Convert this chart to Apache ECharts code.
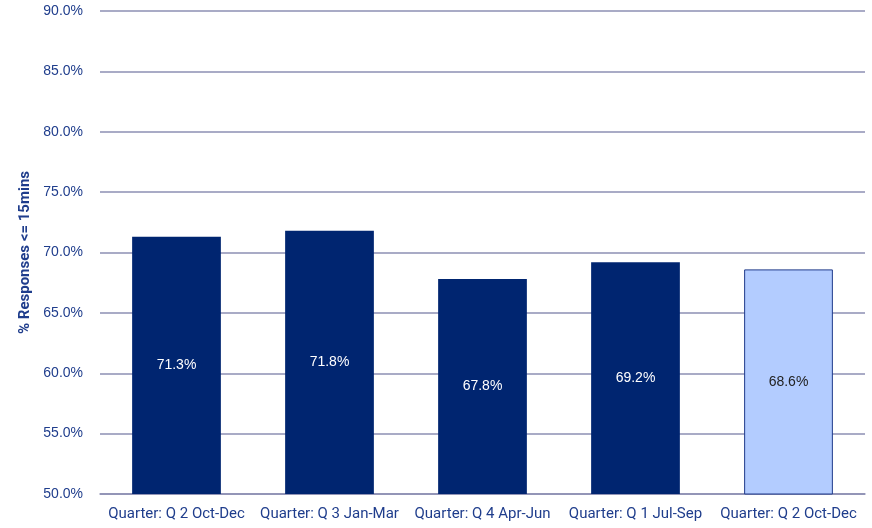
<!DOCTYPE html>
<html>
<head>
<meta charset="utf-8">
<script src="https://cdn.jsdelivr.net/npm/echarts@6/dist/echarts.min.js"></script>
<style>
  html, body { margin: 0; padding: 0; background: #fff; }
  #chart { width: 872px; height: 528px; }
</style>
</head>
<body>
<div id="chart"></div>
<script>
const categories = [
  'Quarter: Q 2 Oct-Dec',
  'Quarter: Q 3 Jan-Mar',
  'Quarter: Q 4 Apr-Jun',
  'Quarter: Q 1 Jul-Sep',
  'Quarter: Q 2 Oct-Dec'
]
const values = [71.3, 71.8, 67.8, 69.2, 68.6]
const highlightIndex = 4

const textColor = '#1f3d8c'
const myChart = echarts.init(document.getElementById('chart'))

const option = {
  animation: false,
  grid: { left: 100, right: 7, top: 11, bottom: 34 },
  xAxis: {
    type: 'category',
    data: categories,
    axisTick: { show: false },
    axisLine: { lineStyle: { color: '#8c8fb3', width: 1.5 } },
    axisLabel: { color: textColor, fontSize: 15, fontFamily: 'Roboto', margin: 13, interval: 0 }
  },
  yAxis: {
    type: 'value',
    min: 50,
    max: 90,
    interval: 5,
    name: '% Responses <= 15mins',
    nameLocation: 'middle',
    nameGap: 61,
    nameTextStyle: { color: textColor, fontSize: 15, fontWeight: 'bold', fontFamily: 'Roboto' },
    axisLabel: {
      color: textColor,
      fontSize: 14,
      fontFamily: 'Liberation Sans',
      margin: 17,
      formatter: v => v.toFixed(1) + '%'
    },
    splitLine: { lineStyle: { color: '#8c8fb3', width: 1.5 } }
  },
  series: [{
    type: 'bar',
    barWidth: '58%',
    data: values.map((v, i) => ({
      value: v,
      itemStyle: i === highlightIndex
        ? { color: '#b3ccff', borderColor: '#1f3a8a', borderWidth: 1 }
        : { color: '#002570' },
      label: { color: i === highlightIndex ? '#222' : '#fff' }
    })),
    label: {
      show: true,
      position: 'inside',
      fontSize: 14,
      fontFamily: 'Liberation Sans',
      formatter: p => p.value.toFixed(1) + '%'
    }
  }]
}
myChart.setOption(option, true)
window.addEventListener('resize', () => { myChart.resize() })
</script>
</body>
</html>
